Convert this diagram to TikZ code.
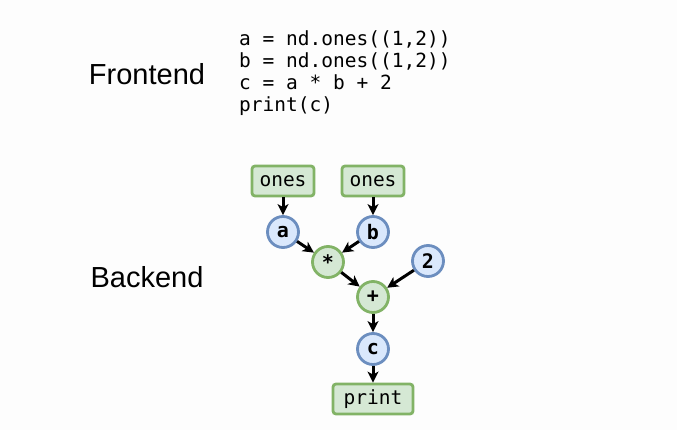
\documentclass[tikz,border=0pt]{standalone}
\usepackage{fontspec}
\setmainfont{Liberation Sans}
\setmonofont{DejaVu Sans Mono}
\usetikzlibrary{arrows.meta}
\definecolor{gfill}{HTML}{D5E8D4}
\definecolor{gline}{HTML}{82B366}
\definecolor{bfill}{HTML}{DAE8FC}
\definecolor{bline}{HTML}{6C8EBF}
\definecolor{bg}{HTML}{FDFDFD}
\begin{document}
\begin{tikzpicture}[x=1pt,y=-1pt,
  opbox/.style={draw=gline,fill=gfill,line width=2.8pt,rounded corners=3pt,minimum width=62pt,minimum height=30pt,inner sep=0pt,font=\fontsize{19.5}{19.5}\selectfont\ttfamily},
  gcirc/.style={circle,draw=gline,fill=gfill,line width=2.8pt,minimum size=31pt,inner sep=0pt,font=\fontsize{20}{20}\selectfont\ttfamily\bfseries},
  bcirc/.style={circle,draw=bline,fill=bfill,line width=2.8pt,minimum size=31pt,inner sep=0pt,font=\fontsize{20}{20}\selectfont\ttfamily\bfseries},
  conn/.style={-{Stealth[length=11pt,width=11pt,inset=3pt]},line width=3pt,black},
  lbl/.style={font=\fontsize{29}{29}\selectfont,inner sep=0pt}]
\fill[bg] (0,0) rectangle (677,430);
\useasboundingbox (0,0) rectangle (677,430);
\node[lbl] (fe) at (147,74) {Frontend};
\node[lbl] (be) at (147,277) {Backend};
\node[anchor=north west,inner sep=0pt,align=left,font=\fontsize{19.5}{22.3}\selectfont\ttfamily] (code) at (239,30)
 {a = nd.ones((1,2))\\b = nd.ones((1,2))\\c = a * b + 2\\print(c)};
\node[opbox] (o1) at (283,181) {ones};
\node[opbox] (o2) at (373,181) {ones};
\node[bcirc] (a) at (283,232) {a};
\node[bcirc] (b) at (373,232) {b};
\node[gcirc] (m) at (328,262) {*};
\node[bcirc] (two) at (428,261) {2};
\node[gcirc] (p) at (373,297) {+};
\node[bcirc] (c) at (373,349) {c};
\node[opbox,minimum width=80pt] (pr) at (373,399) {print};
\draw[conn] (o1) -- (a);
\draw[conn] (o2) -- (b);
\draw[conn] (a) -- (m);
\draw[conn] (b) -- (m);
\draw[conn] (m) -- (p);
\draw[conn] (two) -- (p);
\draw[conn] (p) -- (c);
\draw[conn] (c) -- (pr);
\end{tikzpicture}
\end{document}
